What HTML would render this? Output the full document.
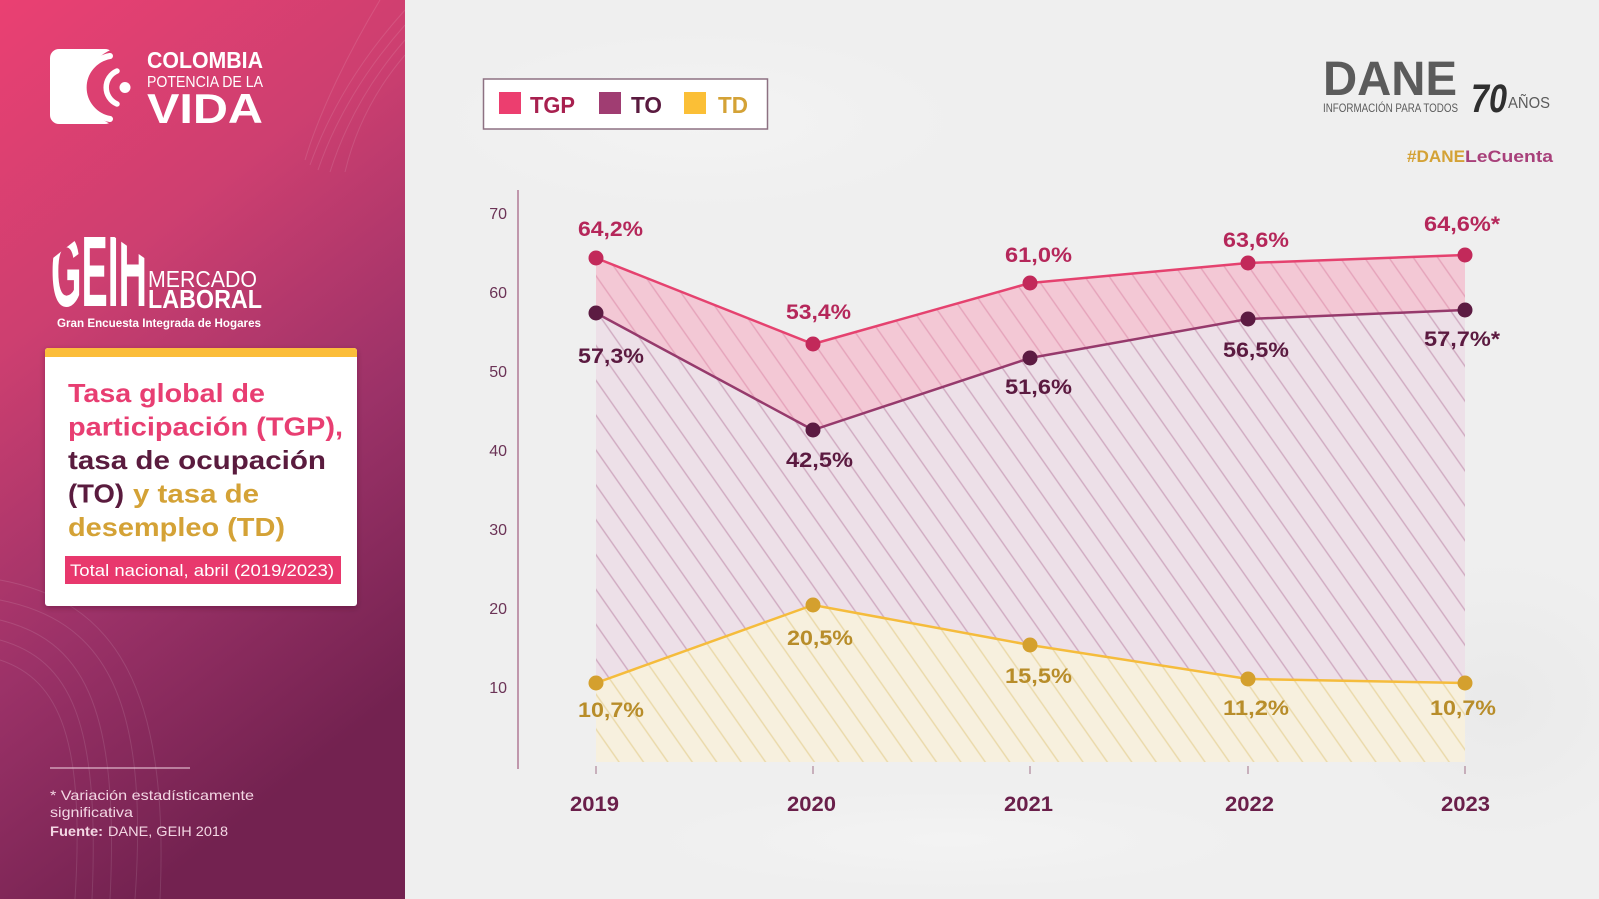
<!DOCTYPE html>
<html><head><meta charset="utf-8">
<style>
html,body{margin:0;padding:0;width:1599px;height:899px;overflow:hidden;background:#efefef;}
svg{display:block;font-family:"Liberation Sans",sans-serif;}
</style></head>
<body>
<svg width="1599" height="899" viewBox="0 0 1599 899" xmlns="http://www.w3.org/2000/svg">
<defs>
  <linearGradient id="panel" x1="0" y1="0" x2="0.35" y2="1">
    <stop offset="0" stop-color="#ea4072"/>
    <stop offset="0.35" stop-color="#cd3f70"/>
    <stop offset="0.68" stop-color="#9c3268"/>
    <stop offset="1" stop-color="#732250"/>
  </linearGradient>
  <radialGradient id="m1" cx="0.5" cy="0.5" r="0.5">
    <stop offset="0" stop-color="#e6e6e6" stop-opacity="0.6"/>
    <stop offset="1" stop-color="#e6e6e6" stop-opacity="0"/>
  </radialGradient>
  <radialGradient id="m2" cx="0.5" cy="0.5" r="0.5">
    <stop offset="0" stop-color="#f6f6f6" stop-opacity="0.6"/>
    <stop offset="1" stop-color="#f6f6f6" stop-opacity="0"/>
  </radialGradient>
  <pattern id="hPink" width="20" height="20" patternUnits="userSpaceOnUse" patternTransform="rotate(-35)">
    <rect width="20" height="20" fill="#f3c8d5"/>
    <line x1="10" y1="0" x2="10" y2="20" stroke="#e5a3ba" stroke-width="1.4"/>
  </pattern>
  <pattern id="hLav" width="20" height="20" patternUnits="userSpaceOnUse" patternTransform="rotate(-35)">
    <rect width="20" height="20" fill="#ede0e8"/>
    <line x1="10" y1="0" x2="10" y2="20" stroke="#cfaac0" stroke-width="1.4"/>
  </pattern>
  <pattern id="hCream" width="20" height="20" patternUnits="userSpaceOnUse" patternTransform="rotate(-35)">
    <rect width="20" height="20" fill="#f7f0de"/>
    <line x1="10" y1="0" x2="10" y2="20" stroke="#ead9a8" stroke-width="1.4"/>
  </pattern>
  <mask id="logoMask">
    <rect x="0" y="0" width="200" height="200" fill="#fff"/>
    <circle cx="126" cy="87" r="40" fill="#000"/>
  </mask>
  <clipPath id="roof">
    <polygon points="48,262 96,224 150,262 150,312 48,312"/>
  </clipPath>
  <filter id="shadow" x="-10%" y="-10%" width="120%" height="120%">
    <feDropShadow dx="0" dy="2" stdDeviation="3" flood-color="#3a0a25" flood-opacity="0.35"/>
  </filter>
</defs>

<!-- right background marble -->
<rect x="0" y="0" width="1599" height="899" fill="#efefef"/>
<ellipse cx="700" cy="120" rx="260" ry="90" fill="url(#m2)"/>
<ellipse cx="1150" cy="500" rx="220" ry="120" fill="url(#m1)"/>
<ellipse cx="1500" cy="700" rx="160" ry="140" fill="url(#m1)"/>
<ellipse cx="950" cy="840" rx="300" ry="50" fill="url(#m2)"/>

<!-- left panel -->
<rect x="0" y="0" width="405" height="899" fill="url(#panel)"/>
<g fill="none" stroke="#ffffff" stroke-opacity="0.11" stroke-width="1">
  <path d="M405,10 C360,60 330,110 310,165"/>
  <path d="M405,25 C365,70 335,120 318,170"/>
  <path d="M405,40 C370,80 345,125 330,172"/>
  <path d="M405,55 C375,90 355,130 345,172"/>
  <path d="M380,0 C350,50 320,110 305,160"/>
  <path d="M0,620 C80,640 120,700 110,899"/>
  <path d="M0,640 C70,660 100,720 92,899"/>
  <path d="M0,660 C60,680 85,740 75,899"/>
  <path d="M0,600 C100,620 150,690 135,899"/>
  <path d="M0,580 C110,600 170,680 160,899"/>
</g>

<!-- Colombia logo -->
<g>
  <rect x="50" y="49" width="64" height="75" rx="9" fill="#fff" mask="url(#logoMask)"/>
  <path d="M110,56 A32,32 0 0 0 110,119" fill="none" stroke="#fff" stroke-width="6" stroke-linecap="round"/>
  <path d="M117,71 A18,18 0 0 0 117,104" fill="none" stroke="#fff" stroke-width="5.5" stroke-linecap="round"/>
  <circle cx="125" cy="87.5" r="5.5" fill="#fff"/>
  <text x="147" y="68" font-size="23" font-weight="bold" fill="#fff" textLength="116" lengthAdjust="spacingAndGlyphs">COLOMBIA</text>
  <text x="147" y="87" font-size="16" fill="#fff" textLength="116" lengthAdjust="spacingAndGlyphs">POTENCIA DE LA</text>
  <text x="147" y="123" font-size="42" font-weight="bold" fill="#fff" textLength="116" lengthAdjust="spacingAndGlyphs">VIDA</text>
</g>

<!-- GEIH logo -->
<g>
  <text x="51" y="306" font-size="100" font-weight="bold" fill="#fff" textLength="96" lengthAdjust="spacingAndGlyphs" clip-path="url(#roof)">GEIH</text>
  <text x="148" y="287" font-size="23" fill="#fff" textLength="109" lengthAdjust="spacingAndGlyphs">MERCADO</text>
  <text x="148" y="308" font-size="26" font-weight="bold" fill="#fff" textLength="114" lengthAdjust="spacingAndGlyphs">LABORAL</text>
  <text x="57" y="327" font-size="12" font-weight="bold" fill="#fff" textLength="204" lengthAdjust="spacingAndGlyphs">Gran Encuesta Integrada de Hogares</text>
</g>

<!-- Title card -->
<g filter="url(#shadow)">
  <rect x="45" y="348" width="312" height="258" rx="3" fill="#fff"/>
</g>
<rect x="45" y="348" width="312" height="9" rx="3" fill="#fbbd3a"/>
<rect x="45" y="353" width="312" height="4" fill="#fbbd3a"/>
<g font-size="26" font-weight="bold">
  <text x="68" y="402" fill="#e83e72" textLength="197" lengthAdjust="spacingAndGlyphs">Tasa global de</text>
  <text x="68" y="435.5" fill="#e83e72" textLength="275" lengthAdjust="spacingAndGlyphs">participación (TGP),</text>
  <text x="68" y="469" fill="#5a1b3e" textLength="258" lengthAdjust="spacingAndGlyphs">tasa de ocupación</text>
  <text x="68" y="502.5" fill="#5a1b3e" textLength="56" lengthAdjust="spacingAndGlyphs">(TO)</text>
  <text x="133" y="502.5" fill="#d4a236" textLength="126" lengthAdjust="spacingAndGlyphs">y tasa de</text>
  <text x="68" y="536" fill="#d4a236" textLength="217" lengthAdjust="spacingAndGlyphs">desempleo (TD)</text>
</g>
<rect x="65" y="556" width="276" height="28" fill="#e8386d"/>
<text x="70" y="576" font-size="17" fill="#fff" textLength="264" lengthAdjust="spacingAndGlyphs">Total nacional, abril (2019/2023)</text>

<!-- footnote -->
<line x1="50" y1="768" x2="190" y2="768" stroke="#f3d6e3" stroke-width="1"/>
<g font-size="14" fill="#f3d6e3">
  <text x="50" y="800" textLength="204" lengthAdjust="spacingAndGlyphs">* Variación estadísticamente</text>
  <text x="50" y="817" textLength="83" lengthAdjust="spacingAndGlyphs">significativa</text>
  <text x="50" y="836" font-weight="bold" textLength="53" lengthAdjust="spacingAndGlyphs">Fuente:</text>
  <text x="108" y="836" textLength="120" lengthAdjust="spacingAndGlyphs">DANE, GEIH 2018</text>
</g>

<!-- DANE logo -->
<g fill="#5b5b5b">
  <text x="1323" y="95" font-size="48" font-weight="bold" textLength="134" lengthAdjust="spacingAndGlyphs">DANE</text>
  <text x="1323" y="112" font-size="11.5" textLength="135" lengthAdjust="spacingAndGlyphs">INFORMACIÓN PARA TODOS</text>
  <text x="1471" y="112" font-size="40" font-weight="bold" font-style="italic" fill="#2f2f2f" textLength="36" lengthAdjust="spacingAndGlyphs">70</text>
  <text x="1508" y="108" font-size="16" textLength="42" lengthAdjust="spacingAndGlyphs">AÑOS</text>
</g>
<text x="1407" y="162" font-size="17" font-weight="bold" fill="#d4a236" textLength="58" lengthAdjust="spacingAndGlyphs">#DANE</text>
<text x="1465" y="162" font-size="17" font-weight="bold" fill="#a8407a" textLength="88" lengthAdjust="spacingAndGlyphs">LeCuenta</text>

<!-- Legend -->
<rect x="483.5" y="79" width="284" height="50" fill="#fff" stroke="#8d7182" stroke-width="1.5"/>
<rect x="499" y="92" width="22" height="22" fill="#ec3e6f"/>
<text x="530" y="113" font-size="23" font-weight="bold" fill="#a8204f" textLength="45" lengthAdjust="spacingAndGlyphs">TGP</text>
<rect x="599" y="92" width="22" height="22" fill="#a03d72"/>
<text x="631" y="113" font-size="23" font-weight="bold" fill="#5a1a3f" textLength="31" lengthAdjust="spacingAndGlyphs">TO</text>
<rect x="684" y="92" width="22" height="22" fill="#fbbf36"/>
<text x="718" y="113" font-size="23" font-weight="bold" fill="#d4a236" textLength="30" lengthAdjust="spacingAndGlyphs">TD</text>

<!-- Axis -->
<line x1="518" y1="190" x2="518" y2="769" stroke="#b07a96" stroke-width="1.5"/>
<g font-size="16" fill="#6b3356" text-anchor="end">
  <text x="507" y="219">70</text>
  <text x="507" y="298">60</text>
  <text x="507" y="377">50</text>
  <text x="507" y="456">40</text>
  <text x="507" y="535">30</text>
  <text x="507" y="614">20</text>
  <text x="507" y="693">10</text>
</g>

<!-- Areas -->
<polygon points="596,258 813,344 1030,283 1248,263 1465,255 1465,310 1248,319 1030,358 813,430 596,313" fill="url(#hPink)"/>
<polygon points="596,313 813,430 1030,358 1248,319 1465,310 1465,683 1248,679 1030,645 813,605 596,683" fill="url(#hLav)"/>
<polygon points="596,683 813,605 1030,645 1248,679 1465,683 1465,762 596,762" fill="url(#hCream)"/>

<!-- Lines -->
<polyline points="596,258 813,344 1030,283 1248,263 1465,255" fill="none" stroke="#e5426f" stroke-width="2.5"/>
<polyline points="596,313 813,430 1030,358 1248,319 1465,310" fill="none" stroke="#963a6c" stroke-width="2.5"/>
<polyline points="596,683 813,605 1030,645 1248,679 1465,683" fill="none" stroke="#f5bc3c" stroke-width="2.5"/>

<!-- Dots -->
<g fill="#c2295a">
  <circle cx="596" cy="258" r="7.5"/><circle cx="813" cy="344" r="7.5"/><circle cx="1030" cy="283" r="7.5"/><circle cx="1248" cy="263" r="7.5"/><circle cx="1465" cy="255" r="7.5"/>
</g>
<g fill="#5c1b42">
  <circle cx="596" cy="313" r="7.5"/><circle cx="813" cy="430" r="7.5"/><circle cx="1030" cy="358" r="7.5"/><circle cx="1248" cy="319" r="7.5"/><circle cx="1465" cy="310" r="7.5"/>
</g>
<g fill="#d4a02e">
  <circle cx="596" cy="683" r="7.5"/><circle cx="813" cy="605" r="7.5"/><circle cx="1030" cy="645" r="7.5"/><circle cx="1248" cy="679" r="7.5"/><circle cx="1465" cy="683" r="7.5"/>
</g>

<!-- Ticks -->
<g stroke="#a07088" stroke-width="1">
  <line x1="596" y1="766" x2="596" y2="774"/><line x1="813" y1="766" x2="813" y2="774"/><line x1="1030" y1="766" x2="1030" y2="774"/><line x1="1248" y1="766" x2="1248" y2="774"/><line x1="1465" y1="766" x2="1465" y2="774"/>
</g>

<!-- Data labels -->
<g font-size="21" font-weight="bold" fill="#b5275a">
  <text x="578" y="236" textLength="65" lengthAdjust="spacingAndGlyphs">64,2%</text>
  <text x="786" y="319" textLength="65" lengthAdjust="spacingAndGlyphs">53,4%</text>
  <text x="1005" y="262" textLength="67" lengthAdjust="spacingAndGlyphs">61,0%</text>
  <text x="1223" y="247" textLength="66" lengthAdjust="spacingAndGlyphs">63,6%</text>
  <text x="1424" y="231" textLength="76" lengthAdjust="spacingAndGlyphs">64,6%*</text>
</g>
<g font-size="21" font-weight="bold" fill="#5b1a40">
  <text x="578" y="363" textLength="66" lengthAdjust="spacingAndGlyphs">57,3%</text>
  <text x="786" y="467" textLength="67" lengthAdjust="spacingAndGlyphs">42,5%</text>
  <text x="1005" y="394" textLength="67" lengthAdjust="spacingAndGlyphs">51,6%</text>
  <text x="1223" y="357" textLength="66" lengthAdjust="spacingAndGlyphs">56,5%</text>
  <text x="1424" y="346" textLength="76" lengthAdjust="spacingAndGlyphs">57,7%*</text>
</g>
<g font-size="21" font-weight="bold" fill="#b88d2a">
  <text x="578" y="717" textLength="66" lengthAdjust="spacingAndGlyphs">10,7%</text>
  <text x="787" y="645" textLength="66" lengthAdjust="spacingAndGlyphs">20,5%</text>
  <text x="1005" y="683" textLength="67" lengthAdjust="spacingAndGlyphs">15,5%</text>
  <text x="1223" y="715" textLength="66" lengthAdjust="spacingAndGlyphs">11,2%</text>
  <text x="1430" y="715" textLength="66" lengthAdjust="spacingAndGlyphs">10,7%</text>
</g>

<!-- Year labels -->
<g font-size="21" font-weight="bold" fill="#6a1f4a">
  <text x="570" y="811" textLength="49" lengthAdjust="spacingAndGlyphs">2019</text>
  <text x="787" y="811" textLength="49" lengthAdjust="spacingAndGlyphs">2020</text>
  <text x="1004" y="811" textLength="49" lengthAdjust="spacingAndGlyphs">2021</text>
  <text x="1225" y="811" textLength="49" lengthAdjust="spacingAndGlyphs">2022</text>
  <text x="1441" y="811" textLength="49" lengthAdjust="spacingAndGlyphs">2023</text>
</g>
</svg>
</body></html>
